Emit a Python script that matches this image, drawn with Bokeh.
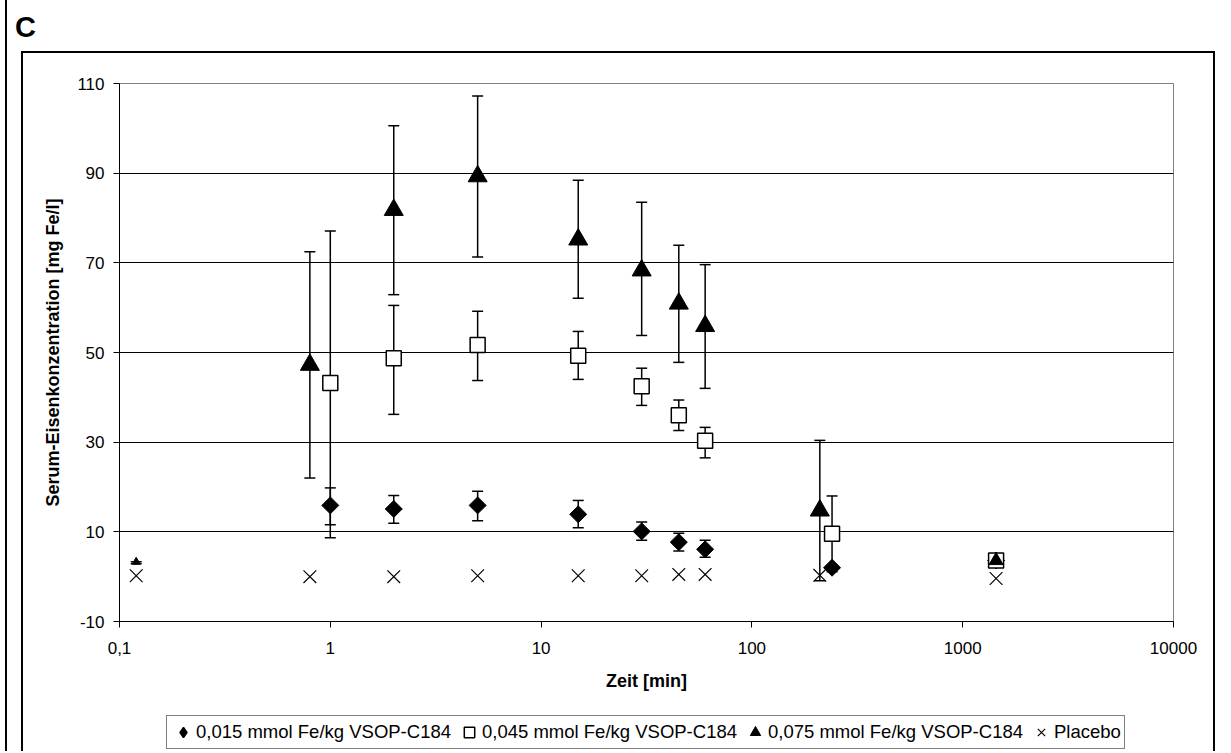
import numpy as np
from bokeh.plotting import figure
from bokeh.layouts import column
from bokeh.models import (ColumnDataSource, Whisker, TeeHead, FixedTicker, Legend, LegendItem,
                          Range1d, Div)
from bokeh.embed import file_html
from bokeh.resources import INLINE

# ---- data (time in min, serum iron in mg Fe/l) ----
t_low = [1, 2, 5, 15, 30, 45, 60, 240, 1440]
c_low = [15.9, 15.1, 15.9, 13.9, 10.1, 7.7, 6.1, 2.0, 3.6]
c_low_lo = [11.6, 11.9, 12.5, 10.9, 8.1, 5.7, 4.35, 2.0, 3.6]
c_low_hi = [19.8, 18.1, 19.05, 17.0, 12.2, 9.7, 8.1, 2.0, 3.6]

t_mid = [1, 2, 5, 15, 30, 45, 60, 240, 1440]
c_mid = [43.2, 48.7, 51.7, 49.3, 42.5, 36.0, 30.3, 9.55, 3.6]
c_mid_lo = [8.7, 36.2, 43.75, 44.0, 38.2, 32.6, 26.5, 1.1, 3.6]
c_mid_hi = [77.1, 60.5, 59.2, 54.7, 46.5, 39.4, 33.3, 18.0, 3.6]

t_high = [0.12, 0.8, 2, 5, 15, 30, 45, 60, 210, 1440]
c_high = [3.3, 47.25, 81.8, 89.3, 75.2, 68.3, 60.9, 55.9, 14.75, 3.6]
c_high_lo = [2.9, 22.0, 62.9, 71.3, 62.1, 53.8, 47.8, 42.0, -0.9, 3.6]
c_high_hi = [3.3, 72.5, 100.6, 107.2, 88.4, 83.5, 73.9, 69.6, 30.4, 3.6]

t_plac = [0.12, 0.8, 2, 5, 15, 30, 45, 60, 210, 1440]
c_plac = [0.2, 0.0, 0.0, 0.2, 0.2, 0.2, 0.5, 0.5, 0.3, -0.4]

x_ticks = [0.1, 1, 10, 100, 1000, 10000]
x_tick_labels = ["0,1", "1", "10", "100", "1000", "10000"]
y_ticks = [-10, 10, 30, 50, 70, 90, 110]
y_tick_labels = ["-10", "10", "30", "50", "70", "90", "110"]

labels = ["0,015 mmol Fe/kg VSOP-C184", "0,045 mmol Fe/kg VSOP-C184",
          "0,075 mmol Fe/kg VSOP-C184", "Placebo"]

FONT = "Liberation Sans"

W, H = 1190, 660
FL, FT, FR, FB = 96, 30, 1150, 568   # plot frame in canvas px

p = figure(width=W, height=H, x_axis_type="log",
           x_range=Range1d(0.1, 10000), y_range=Range1d(-10, 110),
           output_backend="svg", toolbar_location=None,
           min_border_left=FL, min_border_top=FT,
           min_border_right=W - FR, min_border_bottom=H - FB)
p.background_fill_color = "white"
p.border_fill_color = "white"
p.outline_line_color = "#808080"
p.outline_line_width = 1

for ax in (p.xaxis[0], p.yaxis[0]):
    ax.axis_line_color = "black"
    ax.axis_line_width = 1
    ax.major_tick_line_color = "black"
    ax.major_tick_out = 6
    ax.major_tick_in = 0
    ax.minor_tick_line_color = None
    ax.major_label_text_font = FONT
    ax.major_label_text_font_size = "17px"
    ax.major_label_text_color = "black"
    ax.axis_label_text_font = FONT
    ax.axis_label_text_font_size = "18px"
    ax.axis_label_text_font_style = "bold"
    ax.axis_label_text_color = "black"

p.xaxis.ticker = FixedTicker(ticks=x_ticks)
p.xaxis.major_label_overrides = dict(zip(x_ticks, x_tick_labels))
p.yaxis.ticker = FixedTicker(ticks=y_ticks)
p.yaxis.major_label_overrides = dict(zip(y_ticks, y_tick_labels))
p.xaxis.axis_label = "Zeit [min]"
p.yaxis.axis_label = "Serum-Eisenkonzentration [mg Fe/l]"
p.xaxis.major_label_standoff = 14
p.yaxis.major_label_standoff = 9
p.xaxis.axis_label_standoff = 14
p.yaxis.axis_label_standoff = 11

p.xgrid.grid_line_color = None
p.ygrid.ticker = FixedTicker(ticks=[10, 30, 50, 70, 90])
p.ygrid.grid_line_color = "black"
p.ygrid.grid_line_width = 1

s_low = ColumnDataSource(dict(x=t_low, y=c_low, lo=c_low_lo, hi=c_low_hi))
s_mid = ColumnDataSource(dict(x=t_mid, y=c_mid, lo=c_mid_lo, hi=c_mid_hi))
s_high = ColumnDataSource(dict(x=t_high, y=c_high, lo=c_high_lo, hi=c_high_hi,
                               size=[8] + [19] * (len(t_high) - 2) + [14]))
s_plac = ColumnDataSource(dict(x=t_plac, y=c_plac))

def add_whisker(src, cap=11):
    w = Whisker(base="x", lower="lo", upper="hi", source=src, dimension="height",
                line_color="black", line_width=1.5, level="underlay",
                upper_head=TeeHead(size=cap, line_color="black", line_width=1.5),
                lower_head=TeeHead(size=cap, line_color="black", line_width=1.5))
    p.add_layout(w)

add_whisker(s_low)
add_whisker(s_mid)
add_whisker(s_high)

STY = [dict(marker="square", angle=np.pi / 4, size=12, fill_color="black",
            line_color="black", line_width=1),
       dict(marker="square", size=15, fill_color="white", line_color="black", line_width=1.5),
       dict(marker="triangle", fill_color="black", line_color="black", line_width=1),
       dict(marker="x", size=18, line_color="black", line_width=1.2)]

p.scatter("x", "y", source=s_low, **STY[0])
p.scatter("x", "y", source=s_mid, **STY[1])
p.scatter("x", "y", source=s_high, size="size", **STY[2])
p.scatter("x", "y", source=s_plac, **STY[3])

# ---- legend strip (separate small figure below the plot) ----
LW, LH = 1190, 38
pl = figure(width=LW, height=LH, x_range=Range1d(0, 1), y_range=Range1d(0, 1),
            output_backend="svg", toolbar_location=None,
            x_axis_location=None, y_axis_location=None,
            min_border=0, min_border_left=0, min_border_right=0,
            min_border_top=0, min_border_bottom=0)
pl.grid.visible = False
pl.outline_line_color = None
pl.background_fill_color = "white"
pl.border_fill_color = "white"
leg_sty = [dict(marker="diamond", fill_color="black", line_color="black", line_width=1.5),
           dict(STY[1]), dict(STY[2], size=19), dict(STY[3])]
items = []
for lab, st in zip(labels, leg_sty):
    # legend-key renderers only: a single non-drawn (NaN) placeholder each
    r = pl.scatter(x=[np.nan], y=[np.nan], **st)
    items.append(LegendItem(label=lab, renderers=[r]))
legend = Legend(items=items, orientation="horizontal", location=(47, 2),
                label_text_font=FONT, label_text_font_size="18.5px",
                label_text_color="black",
                glyph_width=26, glyph_height=26, label_standoff=0, spacing=5,
                padding=3, margin=0,
                border_line_color="black", border_line_width=1,
                background_fill_color="white", background_fill_alpha=1)
pl.add_layout(legend)

# ---- panel letter, chart box and page rule ----
div_c = Div(text='<div style="font-family:\'Liberation Sans\';font-size:29px;'
                 'font-weight:bold;line-height:29px;color:black;">C</div>',
            width=60, height=29, margin=(13, 0, 0, 8))
inner = column(p, pl, spacing=0, margin=(9, 0, 0, 14),
               styles={"border-top": "2px solid black", "border-left": "2px solid black",
                       "border-right": "2px solid black"})
root = column(div_c, inner, spacing=0, margin=(0, 0, 0, 5),
              styles={"border-left": "2px solid black"})

open("out.html", "w").write(file_html(root, INLINE))
